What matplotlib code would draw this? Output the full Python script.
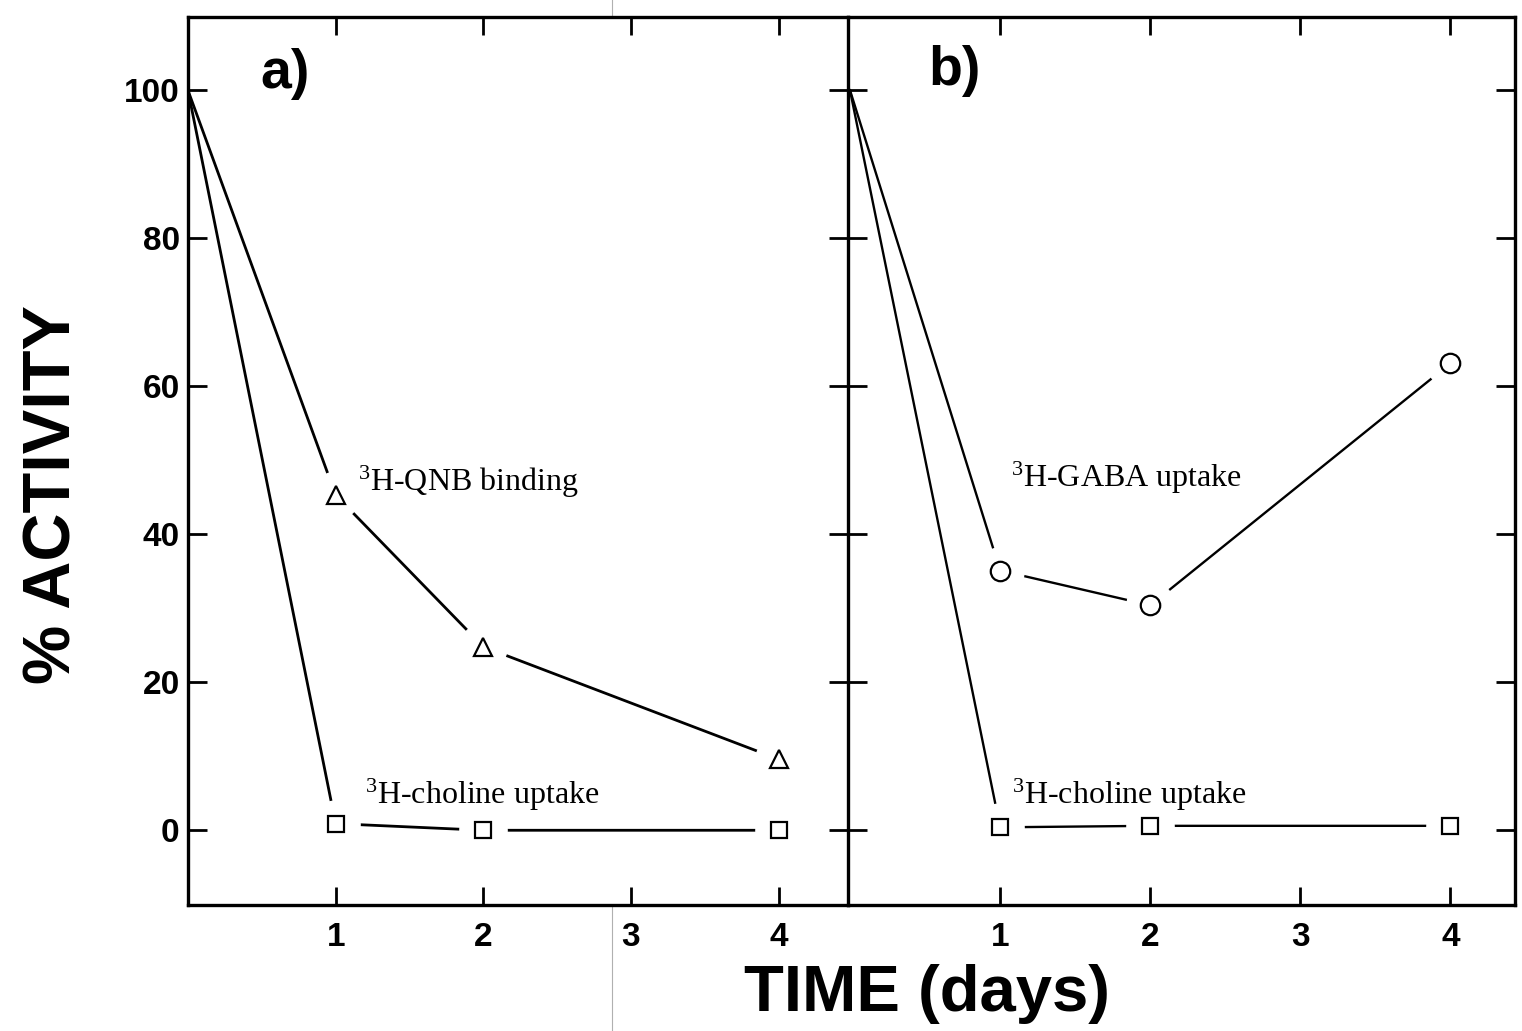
import matplotlib
matplotlib.use("Agg")
import matplotlib.pyplot as plt
from matplotlib.lines import Line2D

# ---- data ----
days = [0, 1, 2, 4]
qnb_binding = [100, 45.3, 24.8, 9.6]          # panel a, triangles
choline_a = [100, 0.9, 0.0, 0.0]               # panel a, squares
gaba_uptake = [100, 35.1, 30.4, 63.1]          # panel b, circles
choline_b = [100, 0.4, 0.6, 0.6]               # panel b, squares
yticks = [0, 20, 40, 60, 80, 100]
xticks = [1, 2, 3, 4]

plt.rcParams['font.family'] = ['Liberation Sans', 'DejaVu Sans']

fig = plt.figure(figsize=(15.22, 10.31), dpi=100)
axA = fig.add_axes([0.1235, 0.1222, 0.4337, 0.8613])
axB = fig.add_axes([0.5572, 0.1222, 0.4382, 0.8613])
axB.patch.set_visible(False)

ylim = (-10.1, 109.9)
axA.set_xlim(0, 4.47)
axB.set_xlim(-0.013, 4.43)
for ax in (axA, axB):
    ax.set_ylim(*ylim)
    for s in ax.spines.values():
        s.set_linewidth(2.4)
    ax.set_xticks(xticks)
    ax.set_xticklabels([str(t) for t in xticks], fontsize=24, fontweight='bold')
    ax.tick_params(axis='x', which='both', direction='in', length=13, width=2.0,
                   top=True, bottom=True, pad=12)
    ax.set_yticks(yticks)

# panel a y axis: inward ticks on both sides (right side forms half of the divider cross)
axA.set_yticklabels([str(t) for t in yticks], fontsize=24, fontweight='bold')
axA.tick_params(axis='y', direction='in', length=14, width=2.0, left=True, right=True, pad=6)
# panel b y axis: inward ticks on both sides (left side completes the divider cross)
axB.spines['left'].set_visible(False)
axB.tick_params(axis='y', direction='in', length=14, width=2.0, left=True, right=True,
                labelleft=False, labelright=False)

lw = 2.0
mk = dict(markerfacecolor='white', markeredgecolor='black', markeredgewidth=1.6, linestyle='none', zorder=5)
mask = dict(marker='o', markersize=34, markerfacecolor='white', markeredgecolor='white',
            linestyle='none', zorder=3)

# panel a
axA.plot(days, qnb_binding, color='black', lw=lw, zorder=2)
axA.plot(days, choline_a, color='black', lw=lw, zorder=2)
axA.plot(days[1:], qnb_binding[1:], **mask)
axA.plot(days[1:], choline_a[1:], **mask)
axA.plot(days[1:], qnb_binding[1:], marker='^', markersize=13, **mk)
axA.plot(days[1:], choline_a[1:], marker='s', markersize=11, **mk)

# panel b
axB.plot(days, gaba_uptake, color='black', lw=1.7, zorder=2)
axB.plot(days, choline_b, color='black', lw=1.7, zorder=2)
axB.plot(days[1:], gaba_uptake[1:], **mask)
axB.plot(days[1:], choline_b[1:], **mask)
axB.plot(days[1:], gaba_uptake[1:], marker='o', markersize=14, **mk)
axB.plot(days[1:], choline_b[1:], marker='s', markersize=11, **mk)

# panel labels
axA.text(0.49, 100.3, 'a)', fontsize=40, fontweight='bold', ha='left', va='baseline')
axB.text(0.52, 100.7, 'b)', fontsize=40, fontweight='bold', ha='left', va='baseline')

serif = ['Liberation Serif', 'DejaVu Serif']
tk = dict(fontsize=23, family=serif, ha='left', va='baseline', zorder=6)
axA.text(1.15, 45.9, r'$\mathregular{^3}$H-QNB binding', **tk)
axA.text(1.20, 3.6, r'$\mathregular{^3}$H-choline uptake', **tk)
axB.text(1.07, 46.4, r'$\mathregular{^3}$H-GABA uptake', **tk)
axB.text(1.08, 3.6, r'$\mathregular{^3}$H-choline uptake', **tk)

# axis titles
fig.text(0.035, 0.52, '% ACTIVITY', rotation=90, fontsize=48, fontweight='bold',
         ha='center', va='center')
fig.text(0.609, 0.019, 'TIME (days)', fontsize=47, fontweight='bold',
         ha='center', va='baseline')

# faint scan fold line
fig.add_artist(Line2D([612 / 1522, 612 / 1522], [0, 1], transform=fig.transFigure,
                      color='#b0b0b0', lw=0.8, zorder=0))

fig.savefig('out.png', dpi=100, facecolor='white')
